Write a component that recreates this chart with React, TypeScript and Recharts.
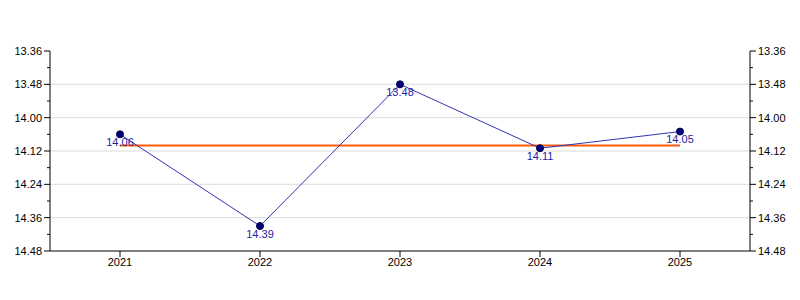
import { LineChart, Line, XAxis, YAxis, CartesianGrid, LabelList } from "recharts";

const years = ["2021", "2022", "2023", "2024", "2025"];
const times = ["14.06", "14.39", "13.48", "14.11", "14.05"];
const averageTime = "14.10";
const majorTicks = ["13.36", "13.48", "14.00", "14.12", "14.24", "14.36", "14.48"];
const minorTicks = ["13.42", "13.54", "14.06", "14.18", "14.30", "14.42"];

// times are minutes.seconds, convert to seconds for the scale
const toSeconds = (t: string) => {
  const [m, s] = t.split(".");
  return Number(m) * 60 + Number(s);
};

const data = years.map((year, i) => ({
  year,
  time: toSeconds(times[i]),
  label: times[i],
  avg: toSeconds(averageTime),
}));

const majorSec = majorTicks.map(toSeconds);
const allTicks = [...majorSec, ...minorTicks.map(toSeconds)].sort((a, b) => a - b);
const domain = [majorSec[0], majorSec[majorSec.length - 1]];
const labelOf = (v: number) => majorTicks[majorSec.indexOf(v)];

const font = "Arial, 'Liberation Sans', sans-serif";

function YTick(props: any) {
  const { x, y, payload, side } = props;
  const isMajor = majorSec.includes(payload.value);
  const len = isMajor ? 6 : 3;
  const axisX = side === "left" ? x + 8 : x - 8;
  const dir = side === "left" ? -1 : 1;
  return (
    <g>
      <line x1={axisX} x2={axisX + dir * len} y1={y} y2={y} stroke="#000" />
      {isMajor && (
        <text
          x={x}
          y={y}
          dy="0.35em"
          textAnchor={side === "left" ? "end" : "start"}
          fontSize={11}
          fontFamily={font}
          fill="#000"
        >
          {labelOf(payload.value)}
        </text>
      )}
    </g>
  );
}

export default function App() {
  return (
    <div style={{ position: "absolute", left: 0, top: 0, background: "#fff" }}>
      <LineChart width={800} height={300} data={data} margin={{ top: 51, right: 0, bottom: 19, left: 0 }}>
        <CartesianGrid
          yAxisId="left"
          vertical={false}
          stroke="#dcdcdc"
          horizontalValues={majorSec.slice(1, -1)}
        />
        <XAxis
          dataKey="year"
          padding={{ left: 70, right: 70 }}
          height={30}
          tickSize={6}
          tickMargin={1}
          axisLine={{ stroke: "#000" }}
          tickLine={{ stroke: "#000" }}
          tick={{ fill: "#000", fontSize: 11, fontFamily: font }}
        />
        <XAxis
          xAxisId="top"
          dataKey="year"
          orientation="top"
          height={0}
          tick={false}
          tickLine={false}
          axisLine={{ stroke: "#000" }}
        />
        <YAxis
          yAxisId="left"
          type="number"
          domain={domain}
          ticks={allTicks}
          interval={0}
          reversed
          allowDataOverflow
          width={50}
          tickSize={6}
          tickMargin={2}
          tickLine={false}
          axisLine={{ stroke: "#000" }}
          tick={(p: any) => <YTick {...p} side="left" />}
        />
        <YAxis
          yAxisId="right"
          orientation="right"
          type="number"
          domain={domain}
          ticks={allTicks}
          interval={0}
          reversed
          allowDataOverflow
          width={50}
          tickSize={6}
          tickMargin={2}
          tickLine={false}
          axisLine={{ stroke: "#000" }}
          tick={(p: any) => <YTick {...p} side="right" />}
        />
        <Line
          yAxisId="left"
          dataKey="avg"
          stroke="#ff5a0a"
          strokeWidth={2}
          dot={false}
          isAnimationActive={false}
        />
        <Line
          yAxisId="left"
          dataKey="time"
          stroke="#3333b0"
          strokeWidth={1}
          dot={{ r: 3.5, fill: "#000080", stroke: "#000040", strokeWidth: 1 }}
          isAnimationActive={false}
        >
          <LabelList dataKey="label" position="bottom" offset={4} fill="#2424a0" fontSize={11} fontFamily={font} />
        </Line>
      </LineChart>
    </div>
  );
}
